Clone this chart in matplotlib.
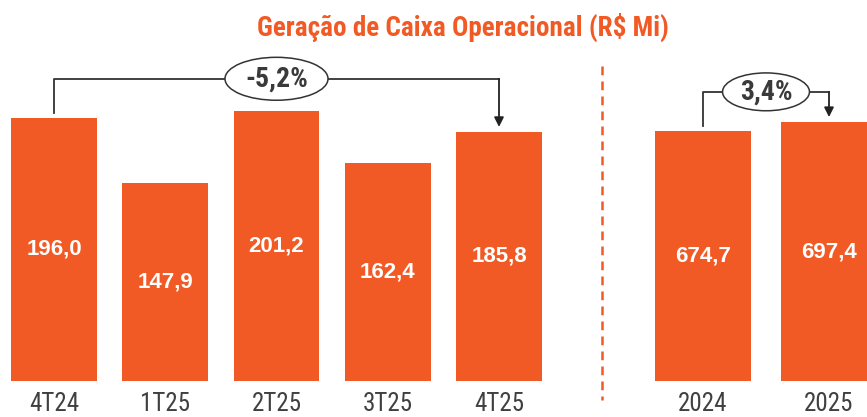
import numpy as np
import matplotlib.pyplot as plt
from matplotlib.patches import Ellipse
from matplotlib.lines import Line2D

# dados
tri_labels = ["4T24", "1T25", "2T25", "3T25", "4T25"]
tri_values = [196.0, 147.9, 201.2, 162.4, 185.8]
ano_labels = ["2024", "2025"]
ano_values = [674.7, 697.4]

titulo = "Geração de Caixa Operacional (R$ Mi)"

laranja = "#F15A24"
cinza = "#404040"
narrow = ["Roboto Condensed", "DejaVu Sans"]

W, H = 867, 417
fig = plt.figure(figsize=(W / 100, H / 100), dpi=100)

def px_axes(x0, x1, y_base):
    # caixa em pixels (origem no topo)
    return fig.add_axes([x0 / W, (H - y_base) / H, (x1 - x0) / W, y_base / H])

def fmt(v):
    return ("%.1f" % v).replace(".", ",")

def barras(ax, labels, values, width):
    x = np.arange(len(values))
    ax.bar(x, values, width=width, color=laranja)
    for xi, v in zip(x, values):
        ax.text(xi, v / 2, fmt(v), ha="center", va="center", color="white",
                fontsize=16, fontweight="bold", family=["Liberation Sans", "DejaVu Sans"])
    ax.set_xticks(x)
    ax.set_xticklabels(labels, family=narrow, fontsize=18, color=cinza)
    ax.tick_params(length=0, pad=8)
    ax.set_yticks([])
    for s in ax.spines.values():
        s.set_visible(False)
    ax.patch.set_alpha(0)

def colchete(ax, i0, i1, y0, y1, ytop, ew, eh, txt):
    ax.plot([i0, i0, i1], [y0, ytop, ytop], color="#333333", lw=1.3, clip_on=False)
    ax.annotate("", xy=(i1, y1), xytext=(i1, ytop),
                arrowprops=dict(arrowstyle="-|>", color="#222222", lw=1.3,
                                mutation_scale=14, shrinkA=0, shrinkB=0),
                annotation_clip=False)
    xm = (i0 + i1) / 2
    ax.add_patch(Ellipse((xm, ytop), ew, eh, facecolor="white", edgecolor="#333333",
                         lw=1.1, clip_on=False, zorder=5))
    ax.text(xm, ytop, txt, ha="center", va="center", fontsize=20, fontweight="bold",
            color="#3a3a3a", family=narrow, zorder=6)

# trimestres
ax1 = px_axes(0, 555, 381)
barras(ax1, tri_labels, tri_values, 0.773)
ax1.set_xlim(-54 / 111.25, (555 - 54) / 111.25)
ax1.set_ylim(0, 381 / 1.342)
var1 = tri_values[-1] / tri_values[0] - 1
colchete(ax1, 0, len(tri_values) - 1, tri_values[0] + 3.7, tri_values[-1] + 3.5,
         max(tri_values) + 24, 0.926, 32.0, ("%.1f%%" % (var1 * 100)).replace(".", ","))

# anos
ax2 = px_axes(610, 867, 381)
barras(ax2, ano_labels, ano_values, 0.762)
ax2.set_xlim((610 - 703) / 126, (867 - 703) / 126)
ax2.set_ylim(0, 381 / 0.371)
var2 = ano_values[-1] / ano_values[0] - 1
colchete(ax2, 0, 1, ano_values[0] + 12, ano_values[1] + 14,
         max(ano_values) + 82, 0.69, 102, ("%.1f%%" % (var2 * 100)).replace(".", ","))

# separador
fig.add_artist(Line2D([602 / W, 602 / W], [1 - 66 / H, 1 - 400 / H], transform=fig.transFigure,
                      color=laranja, lw=1.8, linestyle=(0, (3.5, 2.5))))

fig.text(463 / W, 1 - 27 / H, titulo, ha="center", va="center", color=laranja,
         fontsize=19.5, fontweight="bold", family=narrow)

fig.savefig("out.png", dpi=100)
